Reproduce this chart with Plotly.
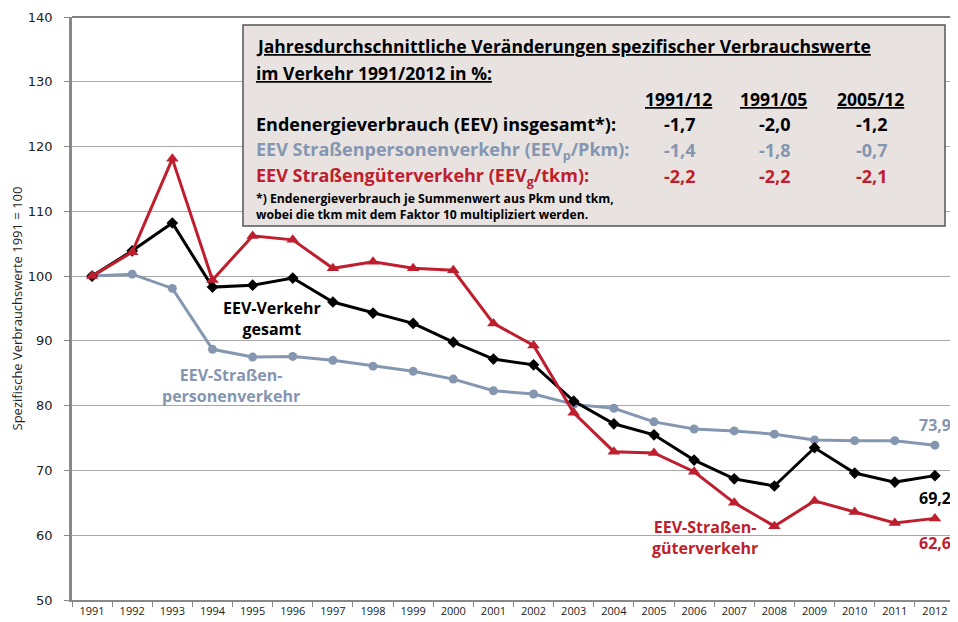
import plotly.graph_objects as go

years = [str(y) for y in range(1991, 2013)]

# Endenergieverbrauch Verkehr gesamt (1991 = 100)
gesamt = [100.0, 103.9, 108.2, 98.3, 98.6, 99.7, 96.0, 94.3, 92.7, 89.8, 87.2,
          86.3, 80.7, 77.2, 75.5, 71.6, 68.7, 67.6, 73.5, 69.6, 68.2, 69.2]
# Straßenpersonenverkehr
personen = [100.0, 100.3, 98.1, 88.7, 87.5, 87.6, 87.0, 86.1, 85.3, 84.1, 82.3,
            81.8, 80.2, 79.6, 77.5, 76.4, 76.1, 75.6, 74.7, 74.6, 74.6, 73.9]
# Straßengüterverkehr
gueter = [100.0, 103.7, 118.1, 99.4, 106.2, 105.6, 101.2, 102.2, 101.2, 100.9, 92.7,
          89.3, 78.9, 72.9, 72.7, 69.8, 65.0, 61.4, 65.3, 63.6, 61.9, 62.6]

periods = ["1991/12", "1991/05", "2005/12"]
rate_labels = ["Endenergieverbrauch (EEV) insgesamt*):",
               "EEV Straßenpersonenverkehr (EEV<sub>p</sub>/Pkm):",
               "EEV Straßengüterverkehr (EEV<sub>g</sub>/tkm):"]
rates = [[-1.7, -2.0, -1.2],
         [-1.4, -1.8, -0.7],
         [-2.2, -2.2, -2.1]]

BLACK = "#000000"
GREY = "#8596B0"
RED = "#BE1E2D"
row_colors = [BLACK, GREY, RED]

# page body has an 8px margin, so the figure is a bit smaller than the window
OFF = 8
W, H = 950, 614
L, R, T, B = 64, 3, 9, 22


def px(x):
    # reference pixel x -> paper
    return (x - OFF - L) / (W - L - R)


def py(y):
    # reference pixel y -> paper
    return (H - B - (y - OFF)) / (H - T - B)


def de(v):
    return f"{v:.1f}".replace(".", ",")


fig = go.Figure()
fig.add_trace(go.Scatter(x=years, y=personen, mode="lines+markers", name="personen",
                         line=dict(color=GREY, width=3),
                         marker=dict(symbol="circle", size=9, color=GREY)))
fig.add_trace(go.Scatter(x=years, y=gesamt, mode="lines+markers", name="gesamt",
                         line=dict(color=BLACK, width=3),
                         marker=dict(symbol="diamond", size=9, color=BLACK)))
fig.add_trace(go.Scatter(x=years, y=gueter, mode="lines+markers", name="gueter",
                         line=dict(color=RED, width=3),
                         marker=dict(symbol="triangle-up", size=11, color=RED)))

font = "Open Sans"
ann = []

# top / right frame (thin, black)
fig.add_shape(type="line", xref="paper", yref="paper", x0=0, x1=1, y0=1, y1=1,
              line=dict(color="#000000", width=1))
fig.add_shape(type="line", xref="paper", yref="paper", x0=1, x1=1, y0=0, y1=1,
              line=dict(color="#000000", width=1))

# Info box
fig.add_shape(type="rect", xref="paper", yref="paper",
              x0=px(243), x1=px(945), y0=py(226), y1=py(25),
              fillcolor="#E8E3E1", line=dict(color="#555555", width=1.5))

ann.append(dict(x=px(254), y=py(46), xanchor="left", yanchor="middle",
                text="<u>Jahresdurchschnittliche Veränderungen spezifischer Verbrauchswerte</u>",
                font=dict(size=17.5, color=BLACK)))
ann.append(dict(x=px(254), y=py(73), xanchor="left", yanchor="middle",
                text="<u>im Verkehr 1991/2012 in %:</u>",
                font=dict(size=17.5, color=BLACK)))
col_x = [678, 773, 870]
for cx, p in zip(col_x, periods):
    ann.append(dict(x=px(cx), y=py(99), xanchor="center", yanchor="middle",
                    text=f"<u>{p}</u>", font=dict(size=17.5, color=BLACK)))
row_y = [124, 150, 176]
for ry, lab, vals, c in zip(row_y, rate_labels, rates, row_colors):
    ann.append(dict(x=px(254), y=py(ry), xanchor="left", yanchor="middle",
                    text=lab, font=dict(size=18, color=c)))
    for cx, v in zip(col_x, vals):
        ann.append(dict(x=px(cx + 2), y=py(ry), xanchor="center", yanchor="middle",
                        text=de(v), font=dict(size=18, color=c)))
ann.append(dict(x=px(254), y=py(206), xanchor="left", yanchor="middle", align="left",
                text="*) Endenergieverbrauch je Summenwert aus Pkm und tkm,<br>"
                     "wobei die tkm mit dem Faktor 10 multipliziert werden.",
                font=dict(size=12.2, color=BLACK)))

# Series labels
ann.append(dict(x=px(272), y=py(319), xanchor="center", yanchor="middle",
                text="EEV-Verkehr<br>gesamt", font=dict(size=16, color=BLACK)))
ann.append(dict(x=px(231), y=py(385), xanchor="center", yanchor="middle",
                text="EEV-Straßen-<br>personenverkehr", font=dict(size=16, color=GREY)))
ann.append(dict(x=px(705), y=py(537), xanchor="center", yanchor="middle",
                text="EEV-Straßen-<br>güterverkehr", font=dict(size=16, color=RED)))
ann.append(dict(x=px(953), y=py(425), xanchor="right", yanchor="middle",
                text=de(personen[-1]), font=dict(size=16, color=GREY)))
ann.append(dict(x=px(953), y=py(498), xanchor="right", yanchor="middle",
                text=de(gesamt[-1]), font=dict(size=16, color=BLACK)))
ann.append(dict(x=px(953), y=py(543), xanchor="right", yanchor="middle",
                text=de(gueter[-1]), font=dict(size=16, color=RED)))

for a in ann:
    a.update(xref="paper", yref="paper", showarrow=False)
    a["text"] = "<b>" + a["text"] + "</b>"
    a["font"]["family"] = font

fig.update_layout(
    width=W, height=H,
    margin=dict(l=L, r=R, t=T, b=B, autoexpand=False),
    plot_bgcolor="white", paper_bgcolor="white",
    showlegend=False,
    annotations=ann,
    font=dict(family=font),
)
fig.update_xaxes(type="category", range=[-0.5, 21.5], tickson="boundaries",
                 ticks="outside", ticklen=5, tickcolor="#888888",
                 showline=True, linecolor="#888888", linewidth=2,
                 showgrid=False, automargin=False,
                 tickfont=dict(family=font, size=11, color="#222222"))
fig.update_yaxes(range=[50, 140], dtick=10, ticks="outside", ticklen=5,
                 tickcolor="#888888", showline=True, linecolor="#888888", linewidth=2.5,
                 showgrid=True, gridcolor="#A8A8A8", gridwidth=1,
                 automargin=False, ticklabelstandoff=9,
                 tickfont=dict(family="DejaVu Sans", size=13, color="#222222"),
                 title=dict(text="Spezifische Verbrauchswerte 1991 = 100",
                            font=dict(family=font, size=13, color="#222222")))

fig.write_html("out.html")
